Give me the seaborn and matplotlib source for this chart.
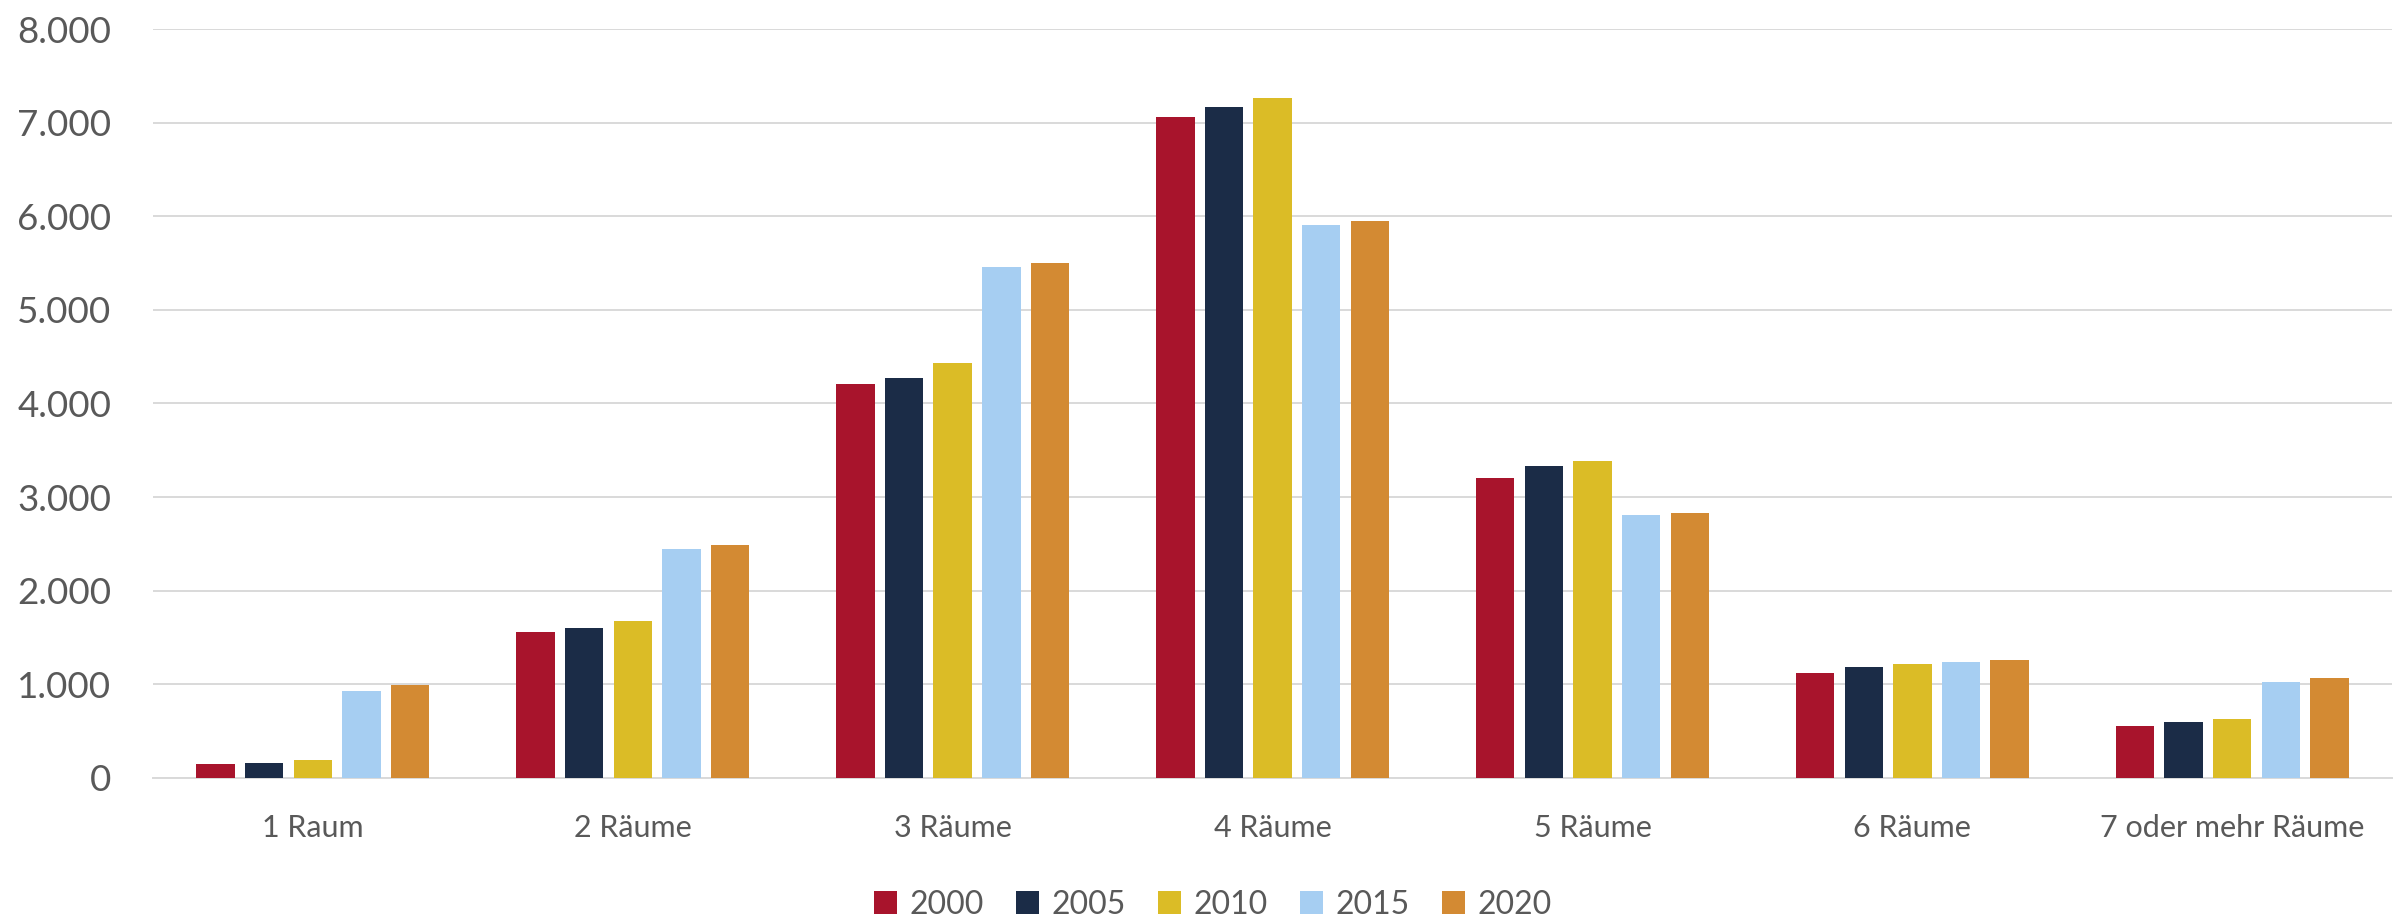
import matplotlib
matplotlib.use("Agg")
import matplotlib.pyplot as plt
import matplotlib.ticker as mticker
import seaborn as sns
import pandas as pd

# Daten: Wohnungen nach Anzahl der Räume
kategorien = ["1 Raum", "2 Räume", "3 Räume", "4 Räume", "5 Räume", "6 Räume", "7 oder mehr Räume"]
jahre = ["2000", "2005", "2010", "2015", "2020"]
werte_2000 = [145, 1560, 4210, 7065, 3205, 1120, 550]
werte_2005 = [160, 1600, 4270, 7165, 3330, 1180, 600]
werte_2010 = [190, 1675, 4430, 7260, 3390, 1220, 625]
werte_2015 = [930, 2450, 5460, 5910, 2805, 1240, 1030]
werte_2020 = [990, 2490, 5505, 5945, 2825, 1265, 1065]
farben = ["#A8142C", "#1B2C47", "#DBBC26", "#A6CEF2", "#D38A33"]

serien = [werte_2000, werte_2005, werte_2010, werte_2015, werte_2020]
rows = []
for jahr, werte in zip(jahre, serien):
    for kat, w in zip(kategorien, werte):
        rows.append({"Kategorie": kat, "Jahr": jahr, "Wert": w})
df = pd.DataFrame(rows)

sns.set_theme(style="white")
plt.rcParams["font.family"] = ["Lato", "DejaVu Sans"]
grau = "#595959"

fig, ax = plt.subplots(figsize=(23.97, 9.21), dpi=100)
fig.subplots_adjust(left=0.0638, right=0.998, top=0.9685, bottom=0.1553)

sns.barplot(data=df, x="Kategorie", y="Wert", hue="Jahr", order=kategorien,
            hue_order=jahre, palette=farben, width=0.76, gap=0.21,
            linewidth=0, saturation=1, errorbar=None, ax=ax, zorder=3)

ax.set_ylim(0, 8000)
ax.set_xlim(-0.5, len(kategorien) - 0.5)
ax.yaxis.set_major_locator(mticker.MultipleLocator(1000))
ax.yaxis.set_major_formatter(mticker.FuncFormatter(lambda v, p: f"{int(v):,}".replace(",", ".")))
ax.grid(axis="y", color="#d9d9d9", linewidth=1.4, zorder=0)
ax.set_axisbelow(True)
for s in ["top", "right", "left"]:
    ax.spines[s].set_visible(False)
ax.spines["bottom"].set_color("#d9d9d9")
ax.spines["bottom"].set_linewidth(1.4)

ax.tick_params(axis="y", length=0, pad=30, labelsize=26.5, labelcolor=grau)
ax.tick_params(axis="x", length=0, pad=26, labelsize=22, labelcolor=grau)
ax.set_xlabel("")
ax.set_ylabel("")

handles, labels = ax.get_legend_handles_labels()
ax.get_legend().remove()
leg = fig.legend(handles, labels, loc="lower center", bbox_to_anchor=(0.506, -0.03),
                 ncol=5, frameon=False, fontsize=23, handlelength=0.72, handleheight=0.72,
                 handletextpad=0.4, columnspacing=1.0)
for t in leg.get_texts():
    t.set_color(grau)

plt.savefig("out.png", dpi=100)
